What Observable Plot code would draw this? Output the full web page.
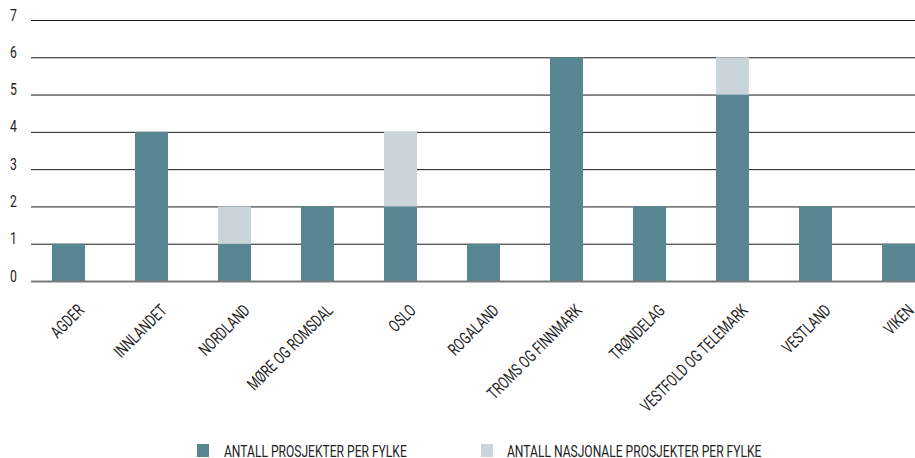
<!DOCTYPE html>
<html>
<head>
<meta charset="utf-8">
<script src="https://cdn.jsdelivr.net/npm/d3@7"></script>
<script src="https://cdn.jsdelivr.net/npm/@observablehq/plot@0.6"></script>
<style>
  body { margin: 0; background: #fff; }
  #wrap { position: relative; width: 915px; height: 458px; overflow: hidden; font-family: Roboto, "DejaVu Sans", sans-serif; }
  .leg { position: absolute; top: 444px; height: 13px; width: 12px; }
  .legt { position: absolute; top: 445px; font-size: 17px; color: #222; white-space: nowrap; transform-origin: 0 0; transform: scaleX(0.71); line-height: 13px; }
</style>
</head>
<body>
<div id="wrap"></div>
<script>
const categories = ["AGDER","INNLANDET","NORDLAND","MØRE OG ROMSDAL","OSLO","ROGALAND","TROMS OG FINNMARK","TRØNDELAG","VESTFOLD OG TELEMARK","VESTLAND","VIKEN"];
const ownProjects = [1,4,1,2,2,1,6,2,5,2,1];
const nationalProjects = [0,0,1,0,2,0,0,0,1,0,0];
const seriesNames = ["ANTALL PROSJEKTER PER FYLKE","ANTALL NASJONALE PROSJEKTER PER FYLKE"];
const seriesColors = ["#588692","#c9d5db"];
const yTicks = [0,1,2,3,4,5,6,7];

const rows = [];
categories.forEach((c, i) => {
  rows.push({fylke: c, series: seriesNames[0], value: ownProjects[i]});
  rows.push({fylke: c, series: seriesNames[1], value: nationalProjects[i]});
});

const font = 'Roboto, "DejaVu Sans", sans-serif';
const chart = Plot.plot({
  width: 915,
  height: 436,
  marginLeft: 31,
  marginRight: 0,
  marginTop: 20,
  marginBottom: 155,
  style: {fontFamily: font, fontSize: "17px", color: "#222", background: "#fff"},
  x: {domain: categories, range: [31, 937], paddingInner: 0.6, paddingOuter: 0.225, axis: null},
  y: {domain: [0, 7], axis: null},
  color: {domain: seriesNames, range: seriesColors},
  marks: [
    Plot.ruleY(yTicks.filter(d => d > 0), {stroke: "#1a1a1a", strokeWidth: 1}),
    Plot.barY(rows, Plot.stackY({x: "fylke", y: "value", fill: "series", order: seriesNames})),
    Plot.ruleY([0], {stroke: "#7a7a7a", strokeWidth: 2}),
    Plot.text(yTicks, {y: d => d, text: d => String(d), frameAnchor: "left", textAnchor: "middle", dx: -18, fontSize: 17, fill: "#222", className: "ylab"}),
    Plot.text(categories, {x: d => d, y: 0, text: d => d, rotate: -45, textAnchor: "end", lineAnchor: "bottom", dx: 16, dy: 30, fontSize: 17, fill: "#222", className: "xlab"})
  ]
});
document.getElementById("wrap").appendChild(chart);

// condense text horizontally (the reference uses a condensed typeface)
const S = 0.72;
d3.select(chart).selectAll("g.xlab text, g.ylab text").each(function() {
  const t = d3.select(this);
  const x = +t.attr("x") || 0, y = +t.attr("y") || 0;
  const tr = t.attr("transform") || "";
  t.attr("x", null).attr("y", null).attr("transform", `${tr} translate(${x},${y}) scale(${S},1)`);
});

const wrap = document.getElementById("wrap");
const legX = [[197, 224], [481, 507]];
seriesNames.forEach((n, i) => {
  const sq = document.createElement("div");
  sq.className = "leg"; sq.style.left = legX[i][0] + "px"; sq.style.background = seriesColors[i];
  wrap.appendChild(sq);
  const tx = document.createElement("div");
  tx.className = "legt"; tx.style.left = legX[i][1] + "px"; tx.textContent = n;
  wrap.appendChild(tx);
});
</script>
</body>
</html>
